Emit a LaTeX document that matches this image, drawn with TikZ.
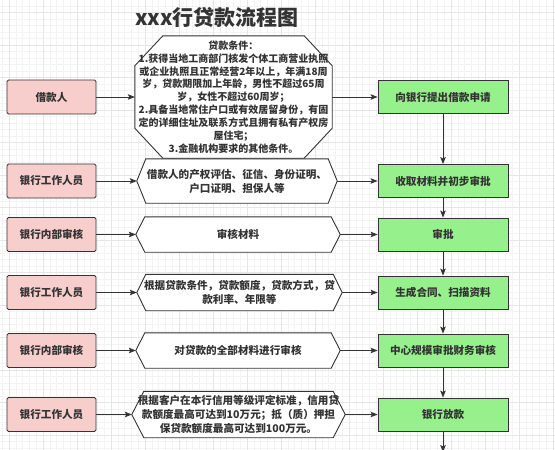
\documentclass[tikz,border=0pt]{standalone}
\usepackage{fontspec}
\setmainfont{Noto Sans CJK SC}
\usetikzlibrary{arrows.meta}
\pgfdeclarelayer{gridlayer}
\pgfdeclarelayer{bg}
\pgfsetlayers{gridlayer,bg,main}
\definecolor{pinkfill}{HTML}{F8CECC}
\definecolor{greenfill}{HTML}{96F08C}
\definecolor{ink}{HTML}{333333}
\definecolor{gridminor}{HTML}{F3F3F3}
\definecolor{gridmajor}{HTML}{E6E6E6}
\tikzset{
  every node/.style={text=ink},
  txt/.style={font=\fontsize{10.6}{14}\selectfont\bfseries, align=center},
  leftbox/.style={txt, draw=ink, line width=0.9pt, fill=pinkfill, rounded corners=1.5pt, minimum width=89pt, minimum height=34pt, inner sep=0pt},
  greenbox/.style={txt, draw=ink, line width=0.9pt, fill=greenfill, minimum width=130pt, minimum height=33pt, inner sep=0pt},
  hexbox/.style={txt, inner sep=0pt},
  hexline/.style={draw=ink, line width=0.9pt, fill=white},
  conn/.style={draw=ink, line width=0.9pt, -{Stealth[length=7pt,width=5.5pt,inset=1.5pt]}},
}
\newcommand\hexframe[2]{%
  \begin{pgfonlayer}{bg}
  \draw[hexline] (#1.west) -- ([xshift=#2]#1.north west) -- ([xshift=-#2]#1.north east) -- (#1.east) -- ([xshift=-#2]#1.south east) -- ([xshift=#2]#1.south west) -- cycle;
  \end{pgfonlayer}}
\begin{document}
\begin{tikzpicture}[x=1pt,y=-1pt]
\useasboundingbox (0,0) rectangle (555,450);
% background grid
\begin{pgfonlayer}{gridlayer}
\fill[white] (0,0) rectangle (555,450);
\foreach \i in {-2,...,82} {
  \draw[gridminor, line width=0.5pt] ({9+\i*6.8},0) -- ({9+\i*6.8},450);
}
\foreach \i in {-2,...,70} {
  \draw[gridminor, line width=0.5pt] (0,{12.7+\i*6.5}) -- (555,{12.7+\i*6.5});
}
\foreach \i in {0,...,16} {
  \draw[gridmajor, line width=0.6pt] ({9+\i*34},0) -- ({9+\i*34},450);
}
\foreach \i in {0,...,14} {
  \draw[gridmajor, line width=0.6pt] (0,{12.7+\i*32.5}) -- (555,{12.7+\i*32.5});
}
\end{pgfonlayer}

% title
\node[font=\fontsize{21}{24}\selectfont\bfseries] (title) at (217,17.5) {xxx行贷款流程图};

% left column
\node[leftbox] (l1) at (51.5,97) {借款人};
\node[leftbox] (l2) at (51.5,181) {银行工作人员};
\node[leftbox] (l3) at (51.5,234.5) {银行内部审核};
\node[leftbox] (l4) at (51.5,292.5) {银行工作人员};
\node[leftbox] (l5) at (51.5,350.5) {银行内部审核};
\node[leftbox] (l6) at (51.5,414.5) {银行工作人员};

% right column
\node[greenbox] (r1) at (443,97) {向银行提出借款申请};
\node[greenbox] (r2) at (443,181) {收取材料并初步审批};
\node[greenbox] (r3) at (443,234.5) {审批};
\node[greenbox] (r4) at (443,292.5) {生成合同、扫描资料};
\node[greenbox] (r5) at (443,350.5) {中心规模审批财务审核};
\node[greenbox] (r6) at (443,414.5) {银行放款};
\coordinate (rend) at (443,452);

% middle column
\node[hexbox, font=\fontsize{10}{12.9}\selectfont\bfseries, minimum width=197pt, minimum height=122pt] (m1) at (233.5,97) {贷款条件：\\1.获得当地工商部门核发个体工商营业执照\\或企业执照且正常经营2年以上，年满18周\\岁，贷款期限加上年龄，男性不超过65周\\岁，女性不超过60周岁；\\2.具备当地常住户口或有效居留身份，有固\\定的详细住址及联系方式且拥有私有产权房\\屋住宅；\\3.金融机构要求的其他条件。};
\begin{pgfonlayer}{bg}
\draw[hexline] ([xshift=28pt]m1.north west) -- ([xshift=-28pt]m1.north east) -- ([yshift=-30pt]m1.north east) -- ([yshift=30pt]m1.south east) -- ([xshift=-28pt]m1.south east) -- ([xshift=28pt]m1.south west) -- ([yshift=30pt]m1.south west) -- ([yshift=-30pt]m1.north west) -- cycle;
\end{pgfonlayer}

\node[hexbox, minimum width=200pt, minimum height=44pt] (m2) at (237,181) {借款人的产权评估、征信、身份证明、\\户口证明、担保人等};
\hexframe{m2}{9pt}
\node[hexbox, minimum width=204pt, minimum height=35pt] (m3) at (238,234.5) {审核材料};
\hexframe{m3}{9pt}
\node[hexbox, minimum width=205pt, minimum height=36pt] (m4) at (239.5,292.5) {根据贷款条件，贷款额度，贷款方式，贷\\款利率、年限等};
\hexframe{m4}{9pt}
\node[hexbox, minimum width=204pt, minimum height=35pt] (m5) at (238,350.5) {对贷款的全部材料进行审核};
\hexframe{m5}{9pt}
\node[hexbox, minimum width=213pt, minimum height=46pt] (m6) at (238.5,414.5) {根据客户在本行信用等级评定标准，信用贷\\款额度最高可达到10万元；抵（质）押担\\保贷款额度最高可达到100万元。};
\hexframe{m6}{12pt}

% connectors
\foreach \k in {1,...,6} {
  \draw[conn] (l\k.east) -- (m\k.west);
  \draw[conn] (m\k.east) -- (r\k.west);
}
\draw[conn] (r1) -- (r2);
\draw[conn] (r2) -- (r3);
\draw[conn] (r3) -- (r4);
\draw[conn] (r4) -- (r5);
\draw[conn] (r5) -- (r6);
\draw[conn] (r6) -- (rend);
\end{tikzpicture}
\end{document}
